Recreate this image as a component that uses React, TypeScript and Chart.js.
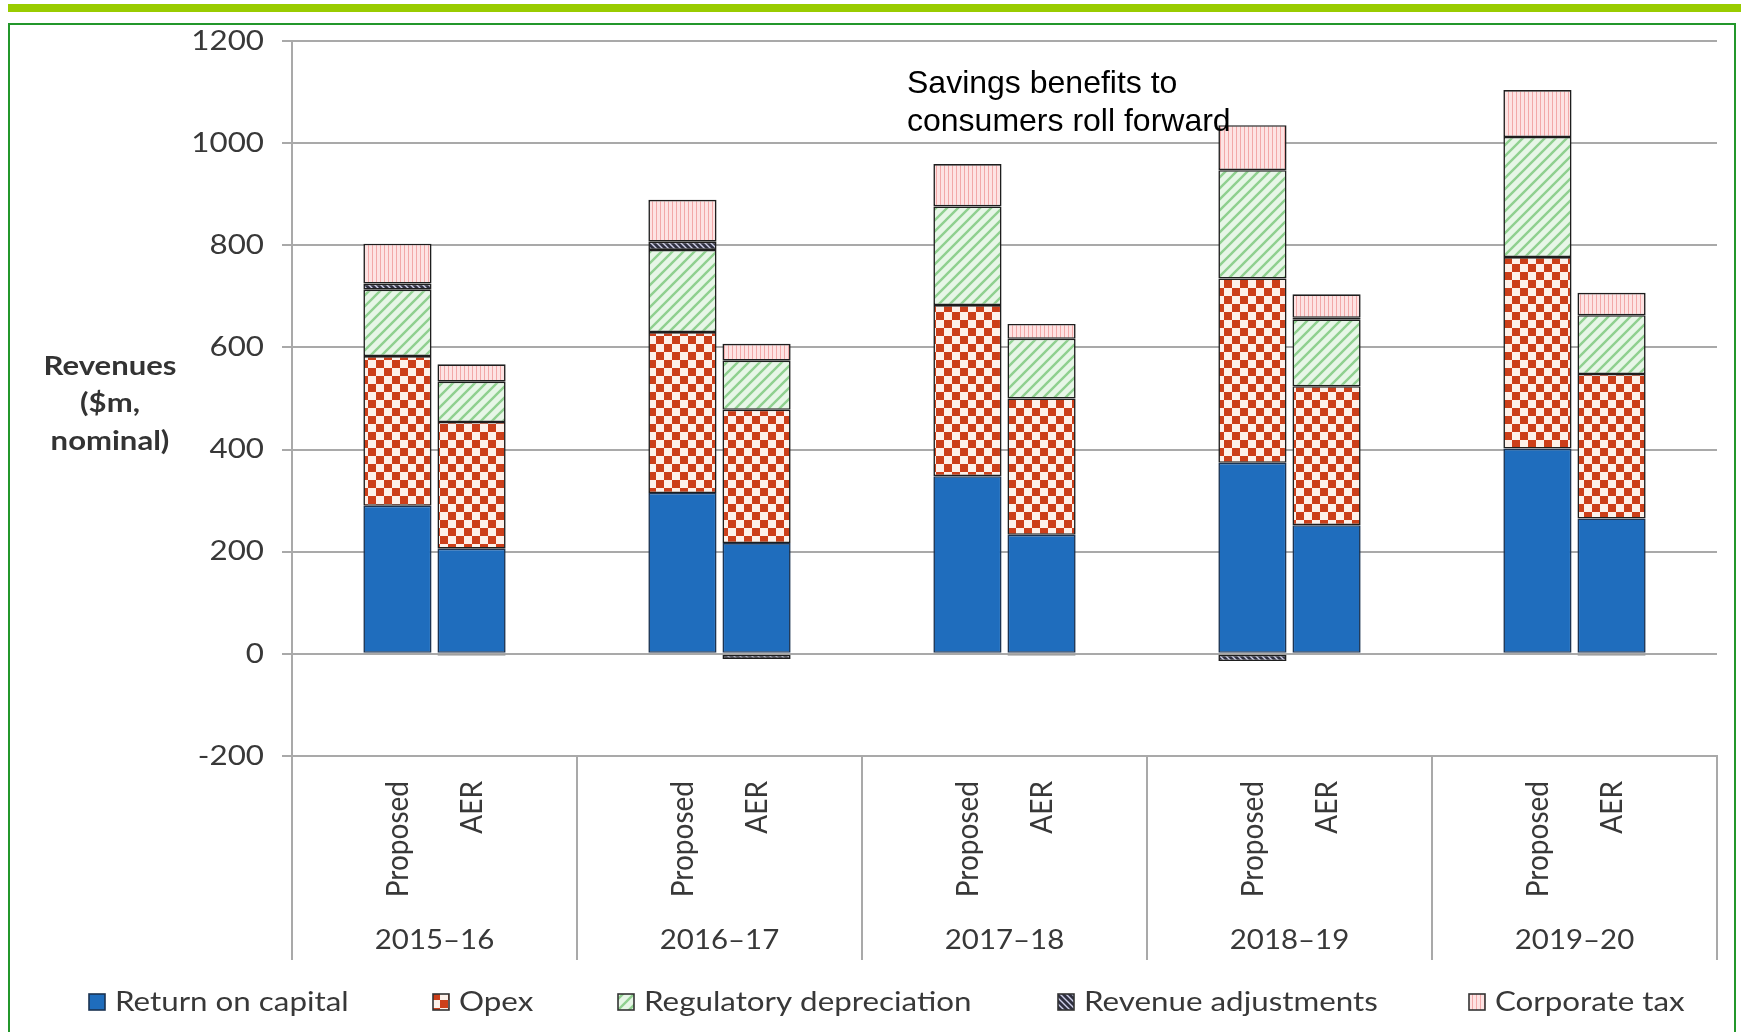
import { useEffect, useRef } from 'react';
import { Chart, registerables } from 'chart.js';

Chart.register(...registerables);

// ---- data ----
const years = ['2015–16', '2016–17', '2017–18', '2018–19', '2019–20'];
const scenarios = ['Proposed', 'AER'];
const seriesNames = [
  'Return on capital',
  'Opex',
  'Regulatory depreciation',
  'Revenue adjustments',
  'Corporate tax',
];

const proposedReturnOnCapital = [290, 315, 348, 374, 402];
const proposedOpex = [293, 315, 335, 361, 375];
const proposedDepreciation = [130, 161, 193, 212, 235];
const proposedAdjustments = [12, 16, 0, -14, 0];
const proposedTax = [78, 82, 83, 88, 92];

const aerReturnOnCapital = [206, 217, 233, 252, 265];
const aerOpex = [248, 261, 267, 272, 283];
const aerDepreciation = [79, 96, 117, 131, 115];
const aerAdjustments = [-3, -10, -3, 3, -3];
const aerTax = [34, 33, 29, 46, 44];

const yMin = -200;
const yMax = 1200;
const yStep = 200;

const yTitleLines = ['Revenues', '($m,', 'nominal)'];
const noteLines = ['Savings benefits to', 'consumers roll forward'];

// ---- styling helpers ----
const TEXT_FONT = 'Lato, "Open Sans", sans-serif';
const TEXT_COLOR = '#383838';
const GRID_COLOR = '#a9a9a9';

function tile(w: number, h: number, paint: (g: CanvasRenderingContext2D) => void) {
  const c = document.createElement('canvas');
  c.width = w;
  c.height = h;
  const g = c.getContext('2d')!;
  paint(g);
  return g.createPattern(c, 'repeat')!;
}

function makeFills() {
  const capital = '#1f6dbd';
  const opex = tile(16, 16, (g) => {
    g.fillStyle = '#fdf1ea';
    g.fillRect(0, 0, 16, 16);
    g.fillStyle = '#cc3f1a';
    g.fillRect(0, 0, 8, 8);
    g.fillRect(8, 8, 8, 8);
  });
  const depreciation = tile(11, 11, (g) => {
    g.fillStyle = '#e7f6e7';
    g.fillRect(0, 0, 11, 11);
    g.strokeStyle = '#8fd08f';
    g.lineWidth = 2.4;
    g.beginPath();
    g.moveTo(-1, 12);
    g.lineTo(12, -1);
    g.moveTo(-2, 2);
    g.lineTo(2, -2);
    g.moveTo(9, 13);
    g.lineTo(13, 9);
    g.stroke();
  });
  const adjustments = tile(6, 6, (g) => {
    g.fillStyle = '#2f3040';
    g.fillRect(0, 0, 6, 6);
    g.strokeStyle = '#cfd0ea';
    g.lineWidth = 1.4;
    g.beginPath();
    g.moveTo(-1, -1);
    g.lineTo(7, 7);
    g.moveTo(-4, 2);
    g.lineTo(4, 10);
    g.moveTo(2, -4);
    g.lineTo(10, 4);
    g.stroke();
  });
  const tax = tile(4, 4, (g) => {
    g.fillStyle = '#fde3e3';
    g.fillRect(0, 0, 4, 4);
    g.fillStyle = '#f2a8a8';
    g.fillRect(0, 0, 1, 4);
  });
  return [capital, opex, depreciation, adjustments, tax];
}

function stretchedText(
  ctx: CanvasRenderingContext2D,
  text: string,
  x: number,
  y: number,
  opts: { font: string; color: string; align: CanvasTextAlign; sx: number; vertical?: boolean }
) {
  ctx.save();
  ctx.translate(x, y);
  if (opts.vertical) {
    ctx.rotate(-Math.PI / 2);
    ctx.scale(1, opts.sx);
  } else {
    ctx.scale(opts.sx, 1);
  }
  ctx.font = opts.font;
  ctx.fillStyle = opts.color;
  ctx.textAlign = opts.align;
  ctx.textBaseline = 'middle';
  ctx.fillText(text, 0, 0);
  ctx.restore();
}

function fmtTick(v: number) {
  return v < 0 ? '-' + Math.abs(v) : String(v);
}

export default function App() {
  const canvasRef = useRef<HTMLCanvasElement | null>(null);

  useEffect(() => {
    const canvas = canvasRef.current;
    if (!canvas) return;
    const fills = makeFills();
    const proposed = [
      proposedReturnOnCapital,
      proposedOpex,
      proposedDepreciation,
      proposedAdjustments,
      proposedTax,
    ];
    const aer = [aerReturnOnCapital, aerOpex, aerDepreciation, aerAdjustments, aerTax];

    const datasets: any[] = [];
    [proposed, aer].forEach((group, gi) => {
      group.forEach((values, si) => {
        datasets.push({
          label: seriesNames[si],
          data: values,
          stack: scenarios[gi],
          backgroundColor: fills[si],
          borderColor: si === 0 ? '#1b3352' : '#1e1e1e',
          borderWidth: 1.6,
          borderSkipped: false,
          categoryPercentage: 0.52,
          barPercentage: 0.92,
        });
      });
    });

    const decor = {
      id: 'decor',
      beforeDraw(chart: any) {
        const ctx = chart.ctx as CanvasRenderingContext2D;
        ctx.save();
        ctx.fillStyle = '#ffffff';
        ctx.fillRect(0, 0, chart.width, chart.height);
        // lime band across the top
        ctx.fillStyle = '#99cc00';
        ctx.fillRect(8, 4, chart.width - 8, 8);
        // green frame
        ctx.strokeStyle = '#23972b';
        ctx.lineWidth = 2;
        ctx.strokeRect(9, 24, chart.width - 15, chart.height + 20);
        ctx.restore();
      },
      afterDraw(chart: any) {
        const ctx = chart.ctx as CanvasRenderingContext2D;
        const area = chart.chartArea;
        const yScale = chart.scales.y;
        const xScale = chart.scales.x;
        const font27 = `27px ${TEXT_FONT}`;

        // value axis labels
        yScale.ticks.forEach((t: any) => {
          const py = yScale.getPixelForValue(t.value);
          stretchedText(ctx, fmtTick(t.value), area.left - 28, py, {
            font: font27,
            color: TEXT_COLOR,
            align: 'right',
            sx: 1.16,
          });
        });

        // value axis title
        const titleFont = `bold 27px ${TEXT_FONT}`;
        yTitleLines.forEach((line, i) => {
          stretchedText(ctx, line, 110, 366 + i * 37.5, {
            font: titleFont,
            color: '#333333',
            align: 'center',
            sx: 1.15,
          });
        });

        // scenario labels under each bar, and year labels under each group
        const firstOf = [0, seriesNames.length];
        years.forEach((yr, j) => {
          firstOf.forEach((di, k) => {
            const bar = chart.getDatasetMeta(di).data[j];
            stretchedText(ctx, scenarios[k], bar.x, area.bottom + 25, {
              font: `28px ${TEXT_FONT}`,
              color: TEXT_COLOR,
              align: 'right',
              sx: 1.12,
              vertical: true,
            });
          });
          stretchedText(ctx, yr, xScale.getPixelForValue(j), area.bottom + 184, {
            font: font27,
            color: TEXT_COLOR,
            align: 'center',
            sx: 1.09,
          });
        });

        // legend
        const legendX = [89, 433, 618, 1058, 1469];
        const ly = chart.height - 30;
        seriesNames.forEach((name, i) => {
          const bx = legendX[i];
          ctx.save();
          ctx.fillStyle = fills[i] as any;
          ctx.fillRect(bx, ly - 8, 16, 16);
          ctx.strokeStyle = i === 0 ? '#1b3352' : '#333333';
          ctx.lineWidth = 1.6;
          ctx.strokeRect(bx, ly - 8, 16, 16);
          ctx.restore();
          stretchedText(ctx, name, bx + 26, ly, {
            font: font27,
            color: TEXT_COLOR,
            align: 'left',
            sx: 1.16,
          });
        });

        // note
        ctx.save();
        ctx.font = '32px "Liberation Sans", Arial, sans-serif';
        ctx.fillStyle = '#000000';
        ctx.textAlign = 'left';
        ctx.textBaseline = 'alphabetic';
        noteLines.forEach((line, i) => ctx.fillText(line, 907, 93 + i * 38));
        ctx.restore();
      },
    };

    const chart = new Chart(canvas, {
      type: 'bar',
      data: { labels: years, datasets },
      options: {
        responsive: false,
        animation: false,
        devicePixelRatio: 1,
        layout: { padding: { top: 41, right: 24, bottom: 72, left: 0 } },
        plugins: { legend: { display: false }, tooltip: { enabled: false } },
        scales: {
          x: {
            stacked: true,
            offset: true,
            ticks: { display: false },
            grid: {
              offset: true,
              drawOnChartArea: false,
              drawTicks: true,
              tickLength: 204,
              color: GRID_COLOR,
              lineWidth: 2,
            },
            border: { display: true, color: GRID_COLOR, width: 2 },
            afterFit: (s: any) => {
              s.height = 204;
            },
          },
          y: {
            stacked: true,
            min: yMin,
            max: yMax,
            ticks: { display: false, stepSize: yStep },
            grid: { color: GRID_COLOR, lineWidth: 2, drawTicks: true, tickLength: 10 },
            border: { display: true, color: GRID_COLOR, width: 2 },
            afterFit: (s: any) => {
              s.width = 292;
            },
          },
        },
      },
      plugins: [decor],
    });

    return () => chart.destroy();
  }, []);

  return (
    <div style={{ position: 'absolute', left: 0, top: 0, width: 1741, height: 1032 }}>
      <canvas ref={canvasRef} width={1741} height={1032} />
    </div>
  );
}
